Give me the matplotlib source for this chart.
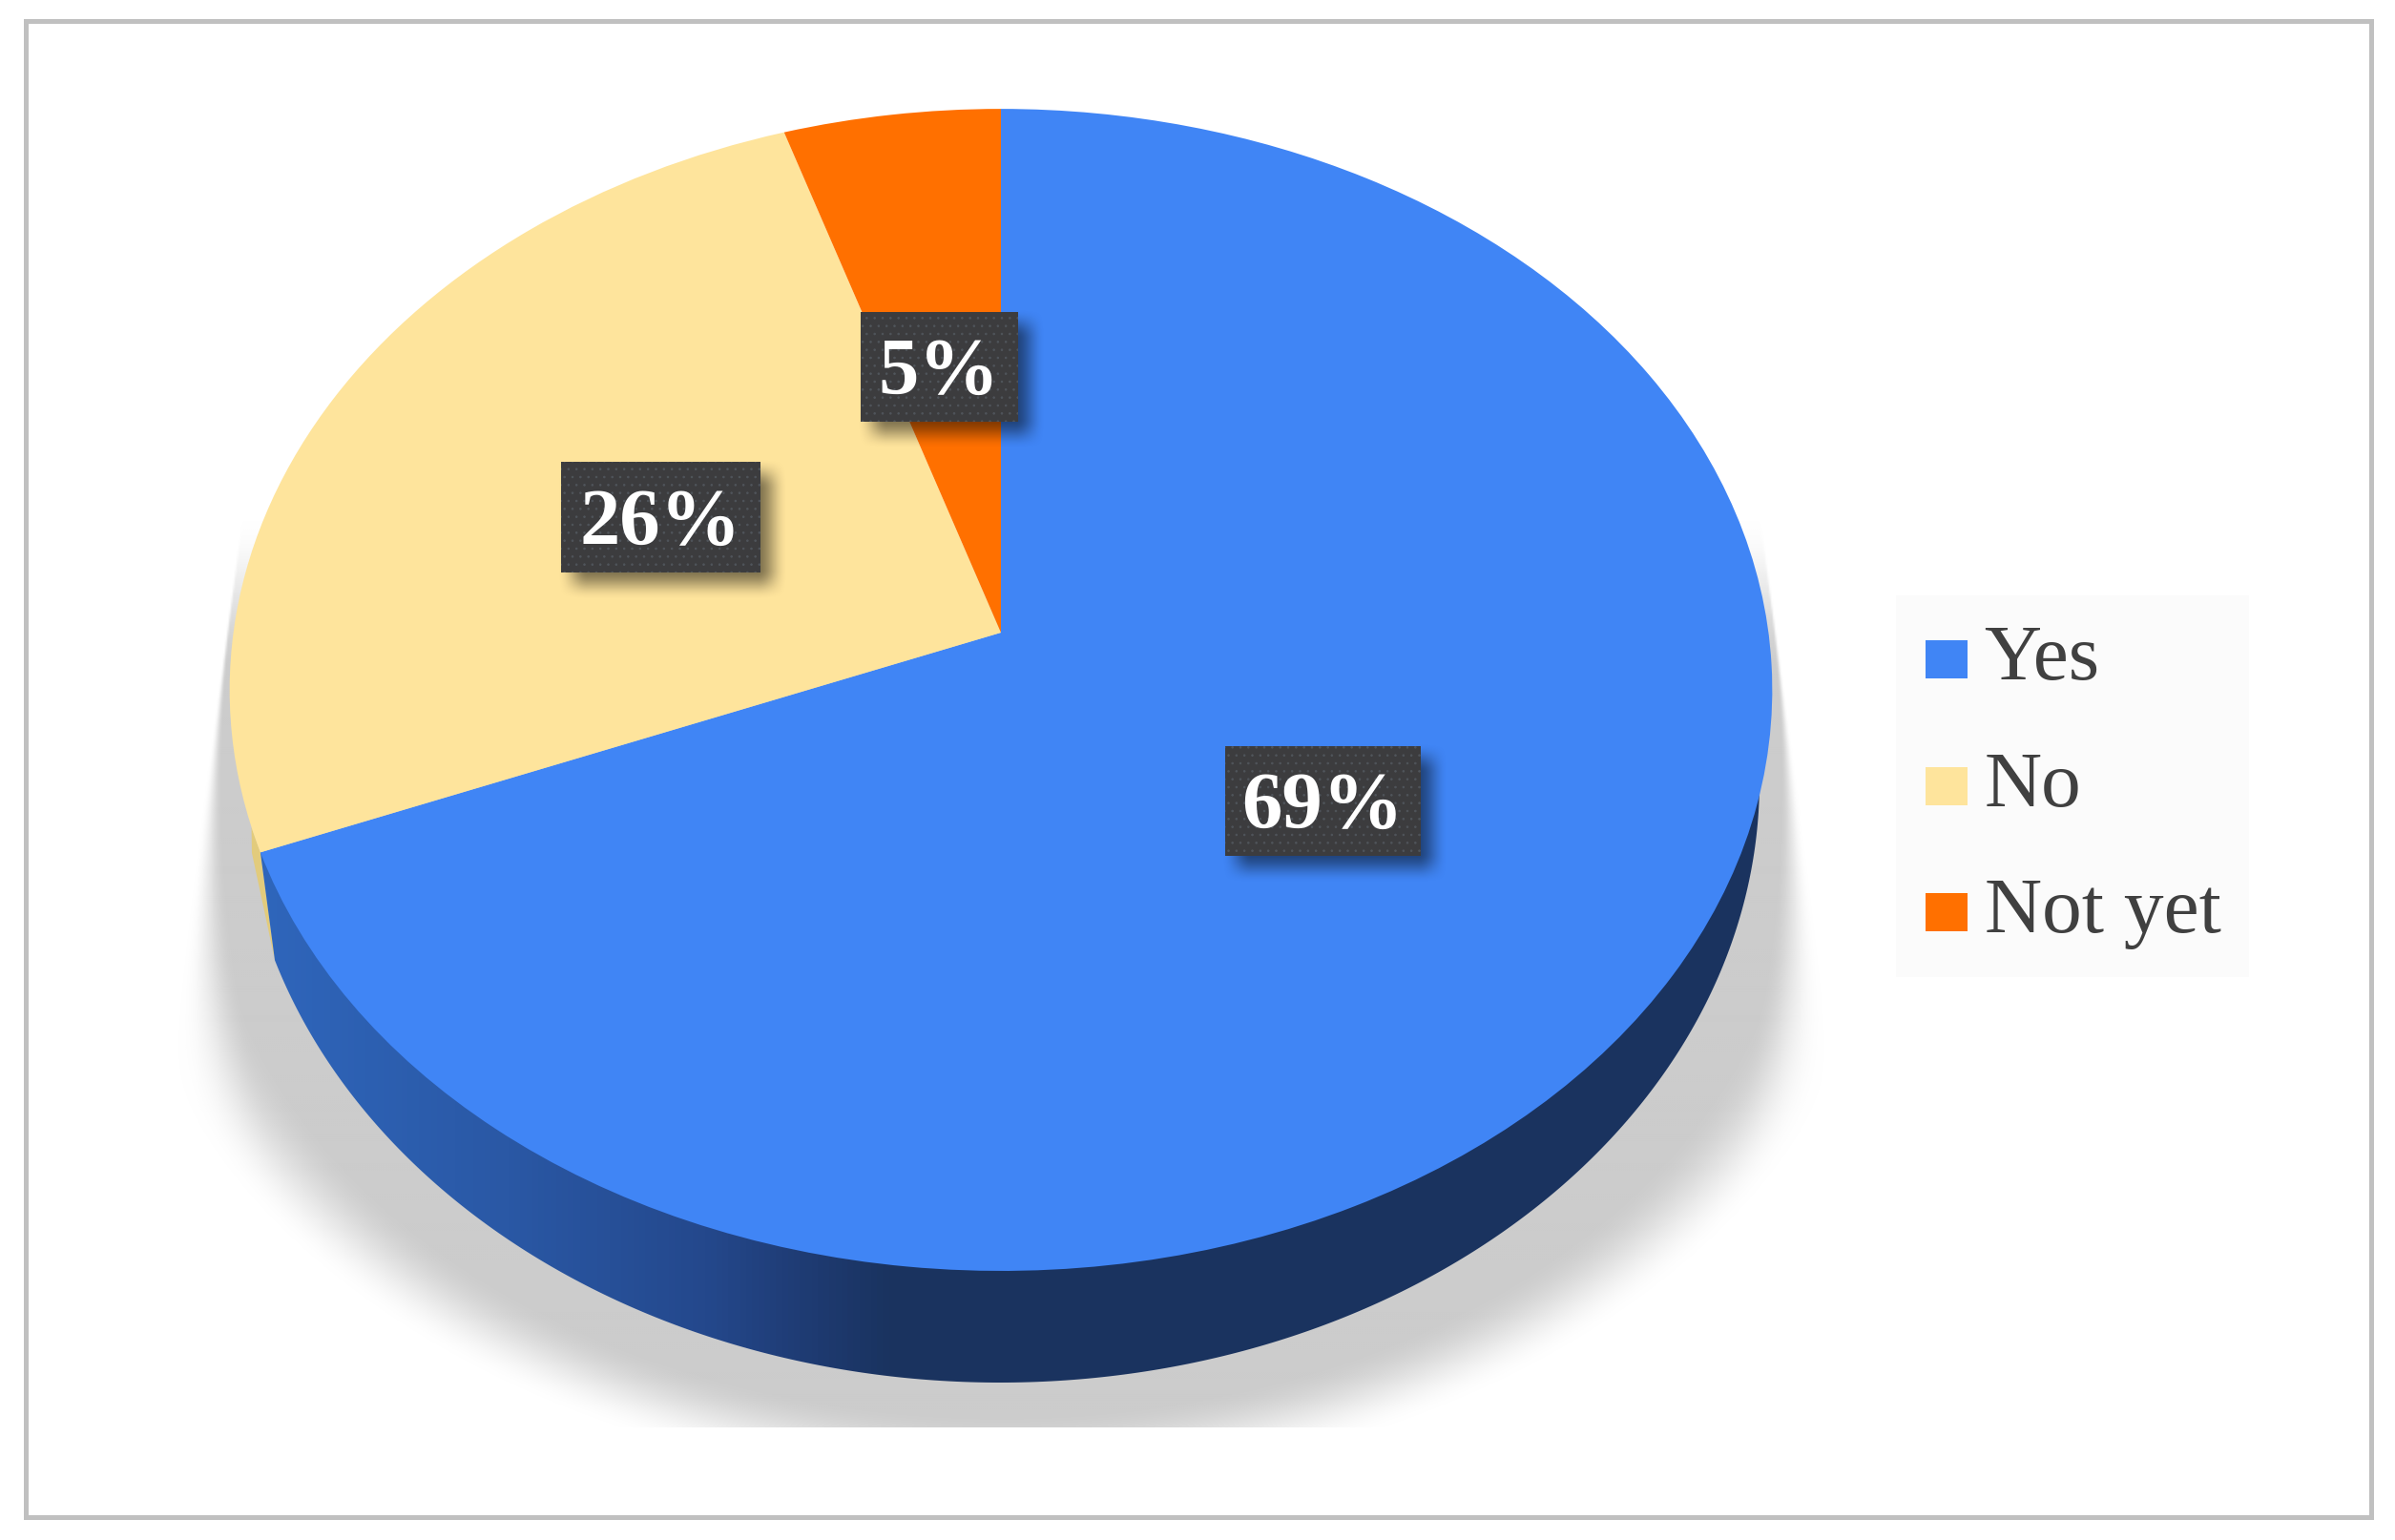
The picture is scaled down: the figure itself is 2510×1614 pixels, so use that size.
import matplotlib

matplotlib.use("Agg")

import matplotlib.pyplot as plt  # noqa: E402
import numpy as np  # noqa: E402
from matplotlib.colors import LinearSegmentedColormap  # noqa: E402
from matplotlib.legend_handler import HandlerPatch  # noqa: E402
from matplotlib.patches import Patch, Polygon, Rectangle  # noqa: E402
from matplotlib.transforms import Transform  # noqa: E402

categories = ["Yes", "No", "Not yet"]
percent_values = [69, 26, 5]
slice_colors = ["#4085f5", "#fee49c", "#ff7000"]
label_boxes = [(1284, 783, 205, 115), (588, 485, 209, 116), (902, 328, 165, 115)]

WIDTH, HEIGHT = 2510, 1615
CX, APEX_Y = 1049.0, 664.0
RIM_A, RIM_B, RIM_K = 804.4, 603.0, 0.0986
LOW_CX, LOW_CY, LOW_A, LOW_B = 1048.0, 820.0, 796.0, 630.0
SERIF = "Liberation Serif"


class RimProjection(Transform):
    # tilted view of the unit circle, so the centre sits above the ellipse middle
    input_dims = 2
    output_dims = 2
    is_separable = False

    def transform_non_affine(self, values):
        values = np.asarray(values, dtype=float)
        scale = 1.0 + RIM_K * values[:, 1]
        return np.column_stack(
            [CX + RIM_A * values[:, 0] / scale, APEX_Y - RIM_B * values[:, 1] / scale]
        )


def smooth(t):
    t = np.clip(t, 0.0, 1.0)
    return t * t * (3.0 - 2.0 * t)


def rim_point(proj, clock_deg):
    angle = np.radians(90.0 - clock_deg)
    return proj.transform_non_affine(np.array([[np.cos(angle), np.sin(angle)]]))[0]


def draw_ground_shadow(ax):
    xx, yy = np.meshgrid(np.arange(100, 2010, 2.0), np.arange(500, 1497, 2.0))
    dy = np.clip(yy - 900.0, 0.0, None)
    radius = np.sqrt(((xx - CX) / 875.0) ** 2 + (dy / 620.0) ** 2)
    body = 1.0 - smooth((radius - 0.94) / 0.13)

    # the sides taper outward, crisp near the rim and softer lower down
    frac = (yy - 634.0) / 400.0
    soft = 3.0 + 60.0 * np.clip(frac, 0.0, None) ** 2
    right = 1857.0 + 53.0 * frac
    left = 240.0 - 53.0 * frac
    sides = smooth((right - xx) / soft) * smooth((xx - left) / soft)
    sides = sides * smooth((yy - 540.0) / 170.0)

    rgba = np.zeros(xx.shape + (4,))
    rgba[..., :3] = 0.80
    rgba[..., 3] = body * sides
    ax.imshow(
        rgba,
        extent=(100, 2010, 1497, 500),
        origin="upper",
        interpolation="bilinear",
        zorder=1,
    )


def draw_wall(ax, proj, yes_end):
    wall_color = LinearSegmentedColormap.from_list(
        "wall",
        [
            (0.0, "#2f66bc"),
            (0.166, "#2a58a5"),
            (0.298, "#24488c"),
            (0.358, "#1f3c75"),
            (0.419, "#1a335f"),
            (1.0, "#1a335f"),
        ],
    )
    turn = np.radians(np.linspace(-2.0, 162.7, 300))
    outer = np.column_stack(
        [LOW_CX + LOW_A * np.cos(turn), LOW_CY + LOW_B * np.sin(turn)]
    )
    rim_end = rim_point(proj, yes_end)
    rim_next = rim_point(proj, yes_end + 2.5)

    sliver = Polygon(
        [rim_next, (264, 895), (279, 965), outer[-1], rim_end],
        closed=True,
        facecolor="#e2cb7c",
        edgecolor="none",
        zorder=2,
    )
    ax.add_patch(sliver)

    wall = Polygon(
        np.vstack([outer, rim_end]), closed=True, facecolor="none", edgecolor="none"
    )
    ax.add_patch(wall)
    ramp = ax.imshow(
        np.linspace(0.0, 1.0, 512).reshape(1, -1),
        extent=(265, 1860, 1460, 780),
        cmap=wall_color,
        aspect="auto",
        zorder=3,
    )
    ramp.set_clip_path(wall)


def draw_label(ax, box, text):
    x, y, w, h = box
    # soft drop shadow, down and to the right of the box
    pad = 40
    xx, yy = np.meshgrid(
        np.arange(x - pad, x + w + 2 * pad, 1.0),
        np.arange(y - pad, y + h + 2 * pad, 1.0),
    )
    off = 12
    spread = 16.0
    alpha_x = smooth((xx - x - off + spread) / (2 * spread)) * smooth(
        (x + w + off + spread - xx) / (2 * spread)
    )
    alpha_y = smooth((yy - y - off + spread) / (2 * spread)) * smooth(
        (y + h + off + spread - yy) / (2 * spread)
    )
    rgba = np.zeros(xx.shape + (4,))
    rgba[..., 3] = 0.5 * alpha_x * alpha_y
    ax.imshow(
        rgba,
        extent=(x - pad, x + w + 2 * pad, y + h + 2 * pad, y - pad),
        origin="upper",
        interpolation="bilinear",
        zorder=6,
    )
    ax.add_patch(
        Rectangle((x, y), w, h, facecolor="#3c3c3e", edgecolor="none", zorder=7)
    )
    plt.rcParams["hatch.linewidth"] = 0.6
    ax.add_patch(
        Rectangle(
            (x, y), w, h, facecolor="none", edgecolor="#50555b", hatch="..",
            linewidth=0, zorder=7.5,
        )
    )
    ax.text(
        x + w / 2,
        y + h / 2 + 7,
        text,
        family=SERIF,
        weight="bold",
        fontsize=61,
        color="white",
        ha="center",
        va="center",
        zorder=8,
    )


def legend_swatch(legend, orig_handle, xdescent, ydescent, width, height, fontsize):
    # 44 x 40 px swatch, sitting a little below the text middle
    return Rectangle((-xdescent + 1.0, -ydescent - 4.5), 31.7, 28.8)


def main():
    fig = plt.figure(figsize=(WIDTH / 100, HEIGHT / 100), dpi=100, facecolor="white")
    ax = fig.add_axes([0, 0, 1, 1])

    proj = RimProjection()
    wedges, _ = ax.pie(
        percent_values,
        colors=slice_colors,
        startangle=90,
        counterclock=False,
        radius=1.0,
        frame=True,
    )
    for wedge in wedges:
        wedge.set_transform(proj + ax.transData)
        wedge.set_zorder(4)
        wedge.set_linewidth(0)

    yes_end = 360.0 * percent_values[0] / sum(percent_values)
    draw_ground_shadow(ax)
    draw_wall(ax, proj, yes_end)

    for box, value in zip(label_boxes, percent_values):
        draw_label(ax, box, f"{value}%")

    # outer frame of the figure
    ax.add_patch(
        Rectangle(
            (26.5, 22.5), 2458, 1568, facecolor="none", edgecolor="#c0c0c0",
            linewidth=3.6, zorder=9,
        )
    )

    handles = [Patch(facecolor=color, edgecolor="none") for color in slice_colors]
    ax.legend(
        handles,
        categories,
        loc="upper left",
        bbox_to_anchor=(1987, 625),
        bbox_transform=ax.transData,
        borderaxespad=0,
        prop={"family": SERIF, "size": 60},
        labelcolor="#404040",
        handlelength=0.53,
        handleheight=0.48,
        handletextpad=0.22,
        labelspacing=0.68,
        borderpad=0.36,
        fancybox=False,
        framealpha=1.0,
        facecolor="#fbfbfb",
        edgecolor="none",
        handler_map={Patch: HandlerPatch(patch_func=legend_swatch)},
    )

    ax.set_aspect("auto")
    ax.set_xlim(0, WIDTH)
    ax.set_ylim(HEIGHT, 0)
    ax.axis("off")
    fig.savefig("out.png", dpi=100, facecolor="white")
    plt.close(fig)


if __name__ == "__main__":
    main()
